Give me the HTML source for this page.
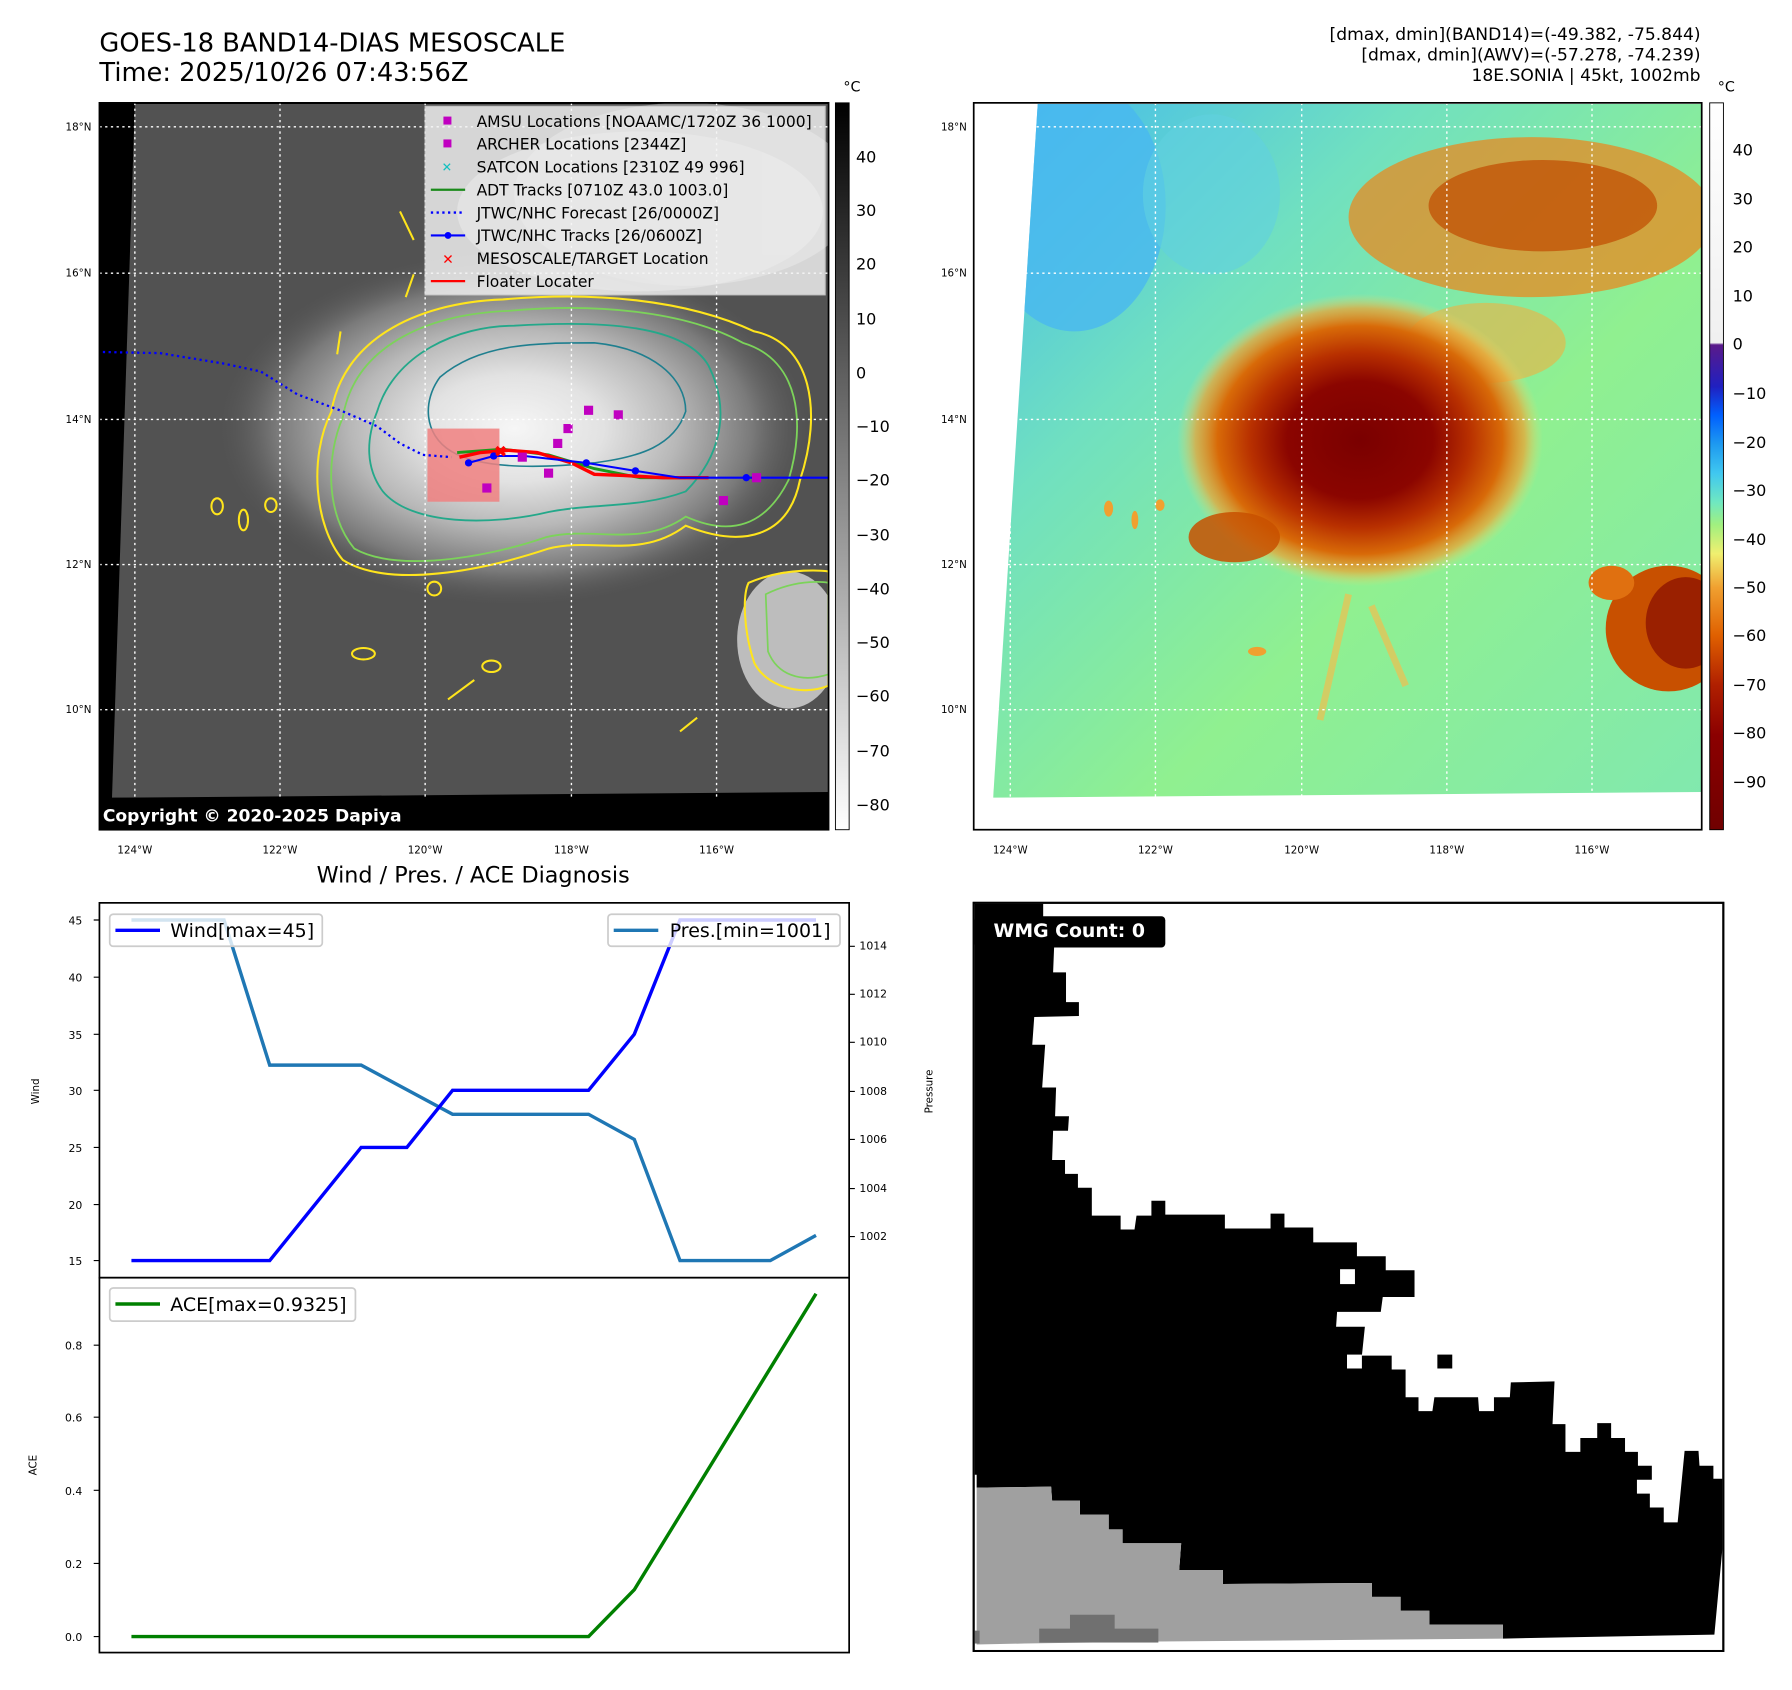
<!DOCTYPE html>
<html><head><meta charset="utf-8"><style>html,body{margin:0;padding:0;background:#fff}svg{display:block}text{font-family:"DejaVu Sans","Liberation Sans",sans-serif}</style></head>
<body>
<svg width="1792" height="1690" viewBox="0 0 1568 1478.75" xmlns="http://www.w3.org/2000/svg">
<defs>
<radialGradient id="g1" cx="450" cy="375" r="260" gradientUnits="userSpaceOnUse" gradientTransform="translate(450 375) scale(1 0.6) translate(-450 -375)">
<stop offset="0" stop-color="#f6f6f6"/><stop offset="0.3" stop-color="#e2e2e2"/><stop offset="0.55" stop-color="#b8b8b8"/><stop offset="0.8" stop-color="#7a7a7a"/><stop offset="1" stop-color="#555" stop-opacity="0"/></radialGradient>
<linearGradient id="cb1" x1="0" y1="0" x2="0" y2="1"><stop offset="0" stop-color="#000"/><stop offset="1" stop-color="#fff"/></linearGradient>
<linearGradient id="cb2" x1="0" y1="0" x2="0" y2="1">
<stop offset="0" stop-color="#ffffff"/><stop offset="0.33" stop-color="#f0f0f0"/><stop offset="0.333" stop-color="#5a1a8a"/><stop offset="0.39" stop-color="#2020c0"/><stop offset="0.43" stop-color="#0060ff"/><stop offset="0.47" stop-color="#1e9af0"/><stop offset="0.51" stop-color="#40c8f0"/><stop offset="0.55" stop-color="#70e8c0"/><stop offset="0.58" stop-color="#a0f080"/><stop offset="0.62" stop-color="#f0f070"/><stop offset="0.667" stop-color="#f0a030"/><stop offset="0.733" stop-color="#e06000"/><stop offset="0.8" stop-color="#b02000"/><stop offset="0.87" stop-color="#8b0000"/><stop offset="1" stop-color="#700000"/></linearGradient>
<radialGradient id="st" cx="1190" cy="385" r="160" gradientUnits="userSpaceOnUse" gradientTransform="translate(1190 385) scale(1 0.8) translate(-1190 -385)">
<stop offset="0" stop-color="#7a0000"/><stop offset="0.4" stop-color="#8b0500"/><stop offset="0.6" stop-color="#b83000"/><stop offset="0.78" stop-color="#d86a08"/><stop offset="0.9" stop-color="#f0a030" stop-opacity="0.7"/><stop offset="1" stop-color="#f0e070" stop-opacity="0"/></radialGradient>
<linearGradient id="bg2" x1="0" y1="0" x2="1" y2="1"><stop offset="0" stop-color="#40b8f0"/><stop offset="0.3" stop-color="#70e0c0"/><stop offset="0.6" stop-color="#90f090"/><stop offset="1" stop-color="#80e8b0"/></linearGradient>
<clipPath id="c1"><rect x="87" y="90" width="638" height="636"/></clipPath>
<clipPath id="c2"><polygon points="908,91 1489,91 1489,693 869,698"/></clipPath>
</defs>
<text x="87" y="45" font-size="22.5">GOES-18 BAND14-DIAS MESOSCALE</text>
<text x="87" y="71" font-size="22.5">Time: 2025/10/26 07:43:56Z</text>
<g font-size="15" text-anchor="end"><text x="1488" y="35">[dmax, dmin](BAND14)=(-49.382, -75.844)</text><text x="1488" y="53">[dmax, dmin](AWV)=(-57.278, -74.239)</text><text x="1488" y="71">18E.SONIA | 45kt, 1002mb</text></g>
<!-- map1 -->
<rect x="87" y="90" width="638" height="636" fill="#000"/>
<g clip-path="url(#c1)">
<polygon points="118,91 725,91 725,693 98,698" fill="#525252"/>
<ellipse cx="600" cy="170" rx="150" ry="80" fill="#9a9a9a" opacity="0.8"/>
<ellipse cx="450" cy="375" rx="270" ry="165" fill="url(#g1)"/>
<ellipse cx="560" cy="185" rx="160" ry="70" fill="#d8d8d8" opacity="0.5"/>
<ellipse cx="690" cy="560" rx="45" ry="60" fill="#bdbdbd"/>
<path d="M290,360 C300,300 360,265 440,262 C520,255 600,262 660,290 C710,300 720,360 700,420 C690,470 650,480 600,460 C560,490 520,470 480,480 C420,500 340,515 300,490 C275,460 270,400 290,360Z" fill="none" stroke="#ffe51c" stroke-width="1.8"/>
<path d="M300,365 C310,305 370,275 445,272 C520,265 600,272 650,300 C700,315 705,370 690,420 C670,460 640,470 600,452 C560,480 520,460 478,470 C420,490 345,500 310,480 C285,450 285,400 300,365Z" fill="none" stroke="#7cd35a" stroke-width="1.6"/>
<path d="M330,360 C345,310 400,285 450,285 C530,280 600,285 620,320 C640,360 630,400 600,430 C560,445 520,440 480,448 C430,460 360,460 335,430 C320,410 320,385 330,360Z" fill="none" stroke="#24a88a" stroke-width="1.6"/>
<path d="M385,330 C420,300 470,300 520,300 C570,305 600,330 600,360 C590,390 560,400 520,405 C470,410 420,410 395,395 C370,380 370,350 385,330Z" fill="none" stroke="#1f7f8f" stroke-width="1.4"/>
<path d="M655,510 C690,495 725,500 725,500 L725,600 C700,610 670,600 660,580 C650,550 650,520 655,510Z" fill="none" stroke="#ffe51c" stroke-width="1.8"/>
<path d="M670,520 C700,505 725,510 725,510 L725,590 C700,598 680,590 672,570Z" fill="none" stroke="#7cd35a" stroke-width="1.5"/>
<g fill="none" stroke="#ffe51c" stroke-width="1.8"><ellipse cx="190" cy="443" rx="5" ry="7"/><ellipse cx="213" cy="455" rx="4" ry="9"/><ellipse cx="237" cy="442" rx="5" ry="6"/><ellipse cx="318" cy="572" rx="10" ry="5"/><ellipse cx="380" cy="515" rx="6" ry="6"/><path d="M392,612 L415,595 M595,640 L610,628 M350,185 L362,210 M355,260 L362,240 M298,290 L295,310"/><ellipse cx="430" cy="583" rx="8" ry="5"/></g>
<rect x="374" y="375" width="63" height="64" fill="#f08080" opacity="0.85"/>
<path d="M90,308 L140,309 L195,318 L228,325 L260,345 L300,360 L330,373 L350,388 L370,398 L395,400" fill="none" stroke="#0000ff" stroke-width="2" stroke-dasharray="2,3"/>
<path d="M400,396 L440,393 L480,398 L520,410 L560,418 L600,418" fill="none" stroke="#1a9a1a" stroke-width="2.5"/>
<path d="M402,400 L420,396 L445,394 L470,396 L500,405 L520,415 L545,416 L580,418 L620,418" fill="none" stroke="#ff0000" stroke-width="3"/>
<path d="M410,405 L432,399 L459,399 L513,405 L556,412 L595,418 L653,418 L725,418" fill="none" stroke="#0000ff" stroke-width="1.8"/>
<g fill="#0000ff"><circle cx="410" cy="405" r="3.2"/><circle cx="432" cy="399" r="3.2"/><circle cx="513" cy="405" r="3.2"/><circle cx="556" cy="412" r="3.2"/><circle cx="653" cy="418" r="3.2"/></g>
<g fill="#c000c0"><rect x="422" y="423" width="8" height="8"/><rect x="476" y="410" width="8" height="8"/><rect x="484" y="384" width="8" height="8"/><rect x="493" y="371" width="8" height="8"/><rect x="511" y="355" width="8" height="8"/><rect x="537" y="359" width="8" height="8"/><rect x="658" y="414" width="8" height="8"/><rect x="629" y="434" width="8" height="8"/><rect x="453" y="396" width="8" height="8"/></g>
<text x="438" y="400" font-size="14" fill="#ff0000" text-anchor="middle">✖</text>
<g stroke="#fff" stroke-width="1.2" stroke-dasharray="2,3"><path d="M118,90V726M245,90V726M372,90V726M500,90V726M627,90V726M87,111H725M87,239H725M87,367H725M87,494H725M87,621H725"/></g>
<rect x="372" y="93" width="350" height="165" fill="#f4f4f4" opacity="0.82" stroke="#ddd"/>
<g font-size="13.6" fill="#000">
<rect x="388" y="102" width="7" height="7" fill="#c000c0"/><text x="417" y="111">AMSU Locations [NOAAMC/1720Z 36 1000]</text>
<rect x="388" y="122" width="7" height="7" fill="#c000c0"/><text x="417" y="131">ARCHER Locations [2344Z]</text>
<text x="391" y="150" font-size="11" fill="#10c0c0" text-anchor="middle" font-weight="bold">✕</text><text x="417" y="151">SATCON Locations [2310Z 49 996]</text>
<path d="M377,166H407" stroke="#1a8a1a" stroke-width="2"/><text x="417" y="171">ADT Tracks [0710Z 43.0 1003.0]</text>
<path d="M377,186H407" stroke="#0000ff" stroke-width="2" stroke-dasharray="2,3"/><text x="417" y="191">JTWC/NHC Forecast [26/0000Z]</text>
<path d="M377,206H407" stroke="#0000ff" stroke-width="1.8"/><circle cx="392" cy="206" r="3" fill="#00f"/><text x="417" y="211">JTWC/NHC Tracks [26/0600Z]</text>
<text x="392" y="231" font-size="12" fill="#f00" text-anchor="middle" font-weight="bold">✕</text><text x="417" y="231">MESOSCALE/TARGET Location</text>
<path d="M377,246H407" stroke="#f00" stroke-width="2"/><text x="417" y="251">Floater Locater</text></g>
<rect x="87" y="698" width="638" height="28" fill="#000"/>
<text x="90" y="719" font-size="15" font-weight="bold" fill="#fff">Copyright © 2020-2025 Dapiya</text>
</g>
<rect x="87" y="90" width="638" height="636" fill="none" stroke="#000" stroke-width="1.5"/>
<g font-size="9" text-anchor="end"><text x="80" y="114">18°N</text><text x="80" y="242">16°N</text><text x="80" y="370">14°N</text><text x="80" y="497">12°N</text><text x="80" y="624">10°N</text></g>
<g font-size="9" text-anchor="middle"><text x="118" y="747">124°W</text><text x="245" y="747">122°W</text><text x="372" y="747">120°W</text><text x="500" y="747">118°W</text><text x="627" y="747">116°W</text></g>
<rect x="731" y="90" width="12" height="636" fill="url(#cb1)" stroke="#000" stroke-width="0.8"/>
<text x="738" y="80" font-size="12.5">°C</text>
<g font-size="14"><text x="749" y="142">40</text><text x="749" y="189">30</text><text x="749" y="236">20</text><text x="749" y="284">10</text><text x="749" y="331">0</text><text x="749" y="378">−10</text><text x="749" y="425">−20</text><text x="749" y="473">−30</text><text x="749" y="520">−40</text><text x="749" y="567">−50</text><text x="749" y="614">−60</text><text x="749" y="662">−70</text><text x="749" y="709">−80</text></g>
<!-- map2 -->
<g clip-path="url(#c2)">
<rect x="852" y="90" width="637" height="636" fill="url(#bg2)"/>
<ellipse cx="940" cy="180" rx="80" ry="110" fill="#48b8f0" opacity="0.8"/>
<ellipse cx="1060" cy="170" rx="60" ry="70" fill="#60d0e0" opacity="0.6"/>
<ellipse cx="1340" cy="190" rx="160" ry="70" fill="#e88a20" opacity="0.75"/>
<ellipse cx="1350" cy="180" rx="100" ry="40" fill="#c04a00" opacity="0.7"/>
<ellipse cx="1300" cy="300" rx="70" ry="35" fill="#f0b040" opacity="0.6"/>
<ellipse cx="1190" cy="385" rx="165" ry="135" fill="url(#st)"/>
<ellipse cx="1080" cy="470" rx="40" ry="22" fill="#c85000" opacity="0.85"/>
<ellipse cx="1460" cy="550" rx="55" ry="55" fill="#c85000"/>
<ellipse cx="1475" cy="545" rx="35" ry="40" fill="#9a2000"/>
<ellipse cx="1410" cy="510" rx="20" ry="15" fill="#e07010"/>
<path d="M1180,520 L1155,630 M1200,530 L1230,600" stroke="#f0c050" stroke-width="6" opacity="0.7"/>
<g fill="#f0a030"><ellipse cx="970" cy="445" rx="4" ry="7"/><ellipse cx="993" cy="455" rx="3" ry="8"/><ellipse cx="1015" cy="442" rx="4" ry="5"/><ellipse cx="1100" cy="570" rx="8" ry="4"/></g>
</g>
<g stroke="#fff" stroke-width="1.2" stroke-dasharray="2,3"><path d="M884,90V726M1011,90V726M1139,90V726M1266,90V726M1393,90V726M852,111H1489M852,239H1489M852,367H1489M852,494H1489M852,621H1489"/></g>
<rect x="852" y="90" width="637" height="636" fill="none" stroke="#000" stroke-width="1.5"/>
<g font-size="9" text-anchor="end"><text x="846" y="114">18°N</text><text x="846" y="242">16°N</text><text x="846" y="370">14°N</text><text x="846" y="497">12°N</text><text x="846" y="624">10°N</text></g>
<g font-size="9" text-anchor="middle"><text x="884" y="747">124°W</text><text x="1011" y="747">122°W</text><text x="1139" y="747">120°W</text><text x="1266" y="747">118°W</text><text x="1393" y="747">116°W</text></g>
<rect x="1496" y="90" width="12" height="636" fill="url(#cb2)" stroke="#000" stroke-width="0.8"/>
<text x="1503" y="80" font-size="12.5">°C</text>
<g font-size="14"><text x="1516" y="136">40</text><text x="1516" y="179">30</text><text x="1516" y="221">20</text><text x="1516" y="264">10</text><text x="1516" y="306">0</text><text x="1516" y="349">−10</text><text x="1516" y="392">−20</text><text x="1516" y="434">−30</text><text x="1516" y="477">−40</text><text x="1516" y="519">−50</text><text x="1516" y="561">−60</text><text x="1516" y="604">−70</text><text x="1516" y="646">−80</text><text x="1516" y="689">−90</text></g>
<!-- charts -->
<text x="414" y="772" font-size="19.5" text-anchor="middle">Wind / Pres. / ACE Diagnosis</text>
<rect x="87" y="790" width="656" height="328" fill="#fff" stroke="#000" stroke-width="1.5"/>
<rect x="87" y="1118" width="656" height="328" fill="#fff" stroke="#000" stroke-width="1.5"/>
<g font-size="9.5" text-anchor="end"><text x="72" y="809">45</text><text x="72" y="859">40</text><text x="72" y="909">35</text><text x="72" y="958">30</text><text x="72" y="1008">25</text><text x="72" y="1058">20</text><text x="72" y="1107">15</text>
<text x="72" y="1181">0.8</text><text x="72" y="1244">0.6</text><text x="72" y="1308">0.4</text><text x="72" y="1372">0.2</text><text x="72" y="1436">0.0</text></g>
<g stroke="#000" stroke-width="1"><path d="M82,805H87M82,855H87M82,905H87M82,954H87M82,1004H87M82,1054H87M82,1103H87M82,1177H87M82,1240H87M82,1304H87M82,1368H87M82,1432H87M743,828H748M743,870H748M743,912H748M743,955H748M743,997H748M743,1040H748M743,1082H748"/></g>
<g font-size="9.5"><text x="752" y="831">1014</text><text x="752" y="873">1012</text><text x="752" y="915">1010</text><text x="752" y="958">1008</text><text x="752" y="1000">1006</text><text x="752" y="1043">1004</text><text x="752" y="1085">1002</text></g>
<text transform="translate(34 955) rotate(-90)" font-size="9" text-anchor="middle">Wind</text>
<text transform="translate(32 1282) rotate(-90)" font-size="9" text-anchor="middle">ACE</text>
<text transform="translate(816 955) rotate(-90)" font-size="9" text-anchor="middle">Pressure</text>
<polyline points="115,805 196,805 236,932 316,932 396,975 515,975 555,997 595,1103 674,1103 714,1081" fill="none" stroke="#1f77b4" stroke-width="3"/>
<polyline points="115,1103 236,1103 316,1004 356,1004 396,954 515,954 555,905 595,805 714,805" fill="none" stroke="#0000ff" stroke-width="3"/>
<polyline points="115,1432 515,1432 555,1391 714,1132" fill="none" stroke="#008000" stroke-width="3"/>
<rect x="96" y="800" width="186" height="28" rx="3" fill="#fff" fill-opacity="0.8" stroke="#ccc" stroke-width="1.5"/>
<path d="M101,814H140" stroke="#0000ff" stroke-width="3"/><text x="149" y="820" font-size="16.6">Wind[max=45]</text>
<rect x="532" y="800" width="203" height="28" rx="3" fill="#fff" fill-opacity="0.8" stroke="#ccc" stroke-width="1.5"/>
<path d="M537,814H576" stroke="#1f77b4" stroke-width="3"/><text x="586" y="820" font-size="16.6">Pres.[min=1001]</text>
<rect x="96" y="1127" width="215" height="29" rx="3" fill="#fff" stroke="#ccc" stroke-width="1.5"/>
<path d="M101,1141H140" stroke="#008000" stroke-width="3"/><text x="149" y="1147" font-size="16.6">ACE[max=0.9325]</text>
<!-- map4 -->
<g transform="translate(839.8 777.8) scale(0.4344)">
<rect x="28" y="28" width="1510" height="1507" fill="#fff" stroke="#000" stroke-width="4"/>
<polygon fill="#000" points="30,30 168,30 168,118 190,118 188,168 214,168 214,228 240,228 240,256 150,258 146,314 172,314 166,400 194,400 192,458 220,458 218,487 188,487 186,546 212,546 212,574 238,574 238,602 266,602 266,658 324,658 324,686 352,686 356,658 386,658 386,628 414,628 414,656 534,656 534,684 626,684 626,654 654,654 654,682 712,682 712,712 800,712 800,740 858,740 858,768 916,768 916,822 852,822 848,852 760,852 758,882 816,882 810,940 870,940 870,968 898,968 898,1024 924,1024 924,1052 952,1052 956,1024 1044,1024 1046,1052 1076,1052 1076,1024 1108,1024 1110,994 1198,992 1194,1078 1220,1078 1220,1134 1250,1134 1250,1106 1284,1106 1284,1076 1312,1076 1312,1106 1340,1106 1340,1134 1366,1134 1366,1162 1394,1162 1394,1190 1364,1190 1364,1218 1390,1218 1390,1246 1418,1246 1418,1276 1446,1276 1460,1132 1488,1132 1490,1162 1518,1162 1518,1188 1536,1188 1536,1330 1520,1502 1094,1510 1094,1482 946,1482 946,1454 888,1454 888,1426 830,1426 830,1398 530,1400 530,1372 442,1372 446,1318 328,1318 328,1290 300,1290 300,1260 242,1260 242,1232 186,1232 184,1204 34,1206 34,1180 30,1180"/>
<rect x="766" y="766" width="30" height="30" fill="#fff"/><rect x="780" y="938" width="30" height="28" fill="#fff"/><rect x="962" y="938" width="30" height="28" fill="#000"/>
<polygon fill="#a0a0a0" points="34,1206 184,1204 186,1232 242,1232 242,1260 300,1260 300,1290 328,1290 328,1318 446,1318 442,1372 530,1372 530,1400 830,1398 830,1426 888,1426 888,1454 946,1454 946,1482 1094,1482 1094,1510 400,1516 130,1520 34,1522"/>
<rect x="222" y="1462" width="90" height="30" fill="#707070"/><rect x="160" y="1490" width="240" height="28" fill="#707070"/><rect x="30" y="1494" width="10" height="26" fill="#707070"/>
<rect x="30" y="55" width="384" height="63" rx="8" fill="#000"/>
<text x="68" y="97" font-size="38" font-weight="bold" fill="#fff">WMG Count: 0</text>
<rect x="28" y="28" width="1510" height="1507" fill="none" stroke="#000" stroke-width="4"/>
</g>
</svg>
</body></html>
